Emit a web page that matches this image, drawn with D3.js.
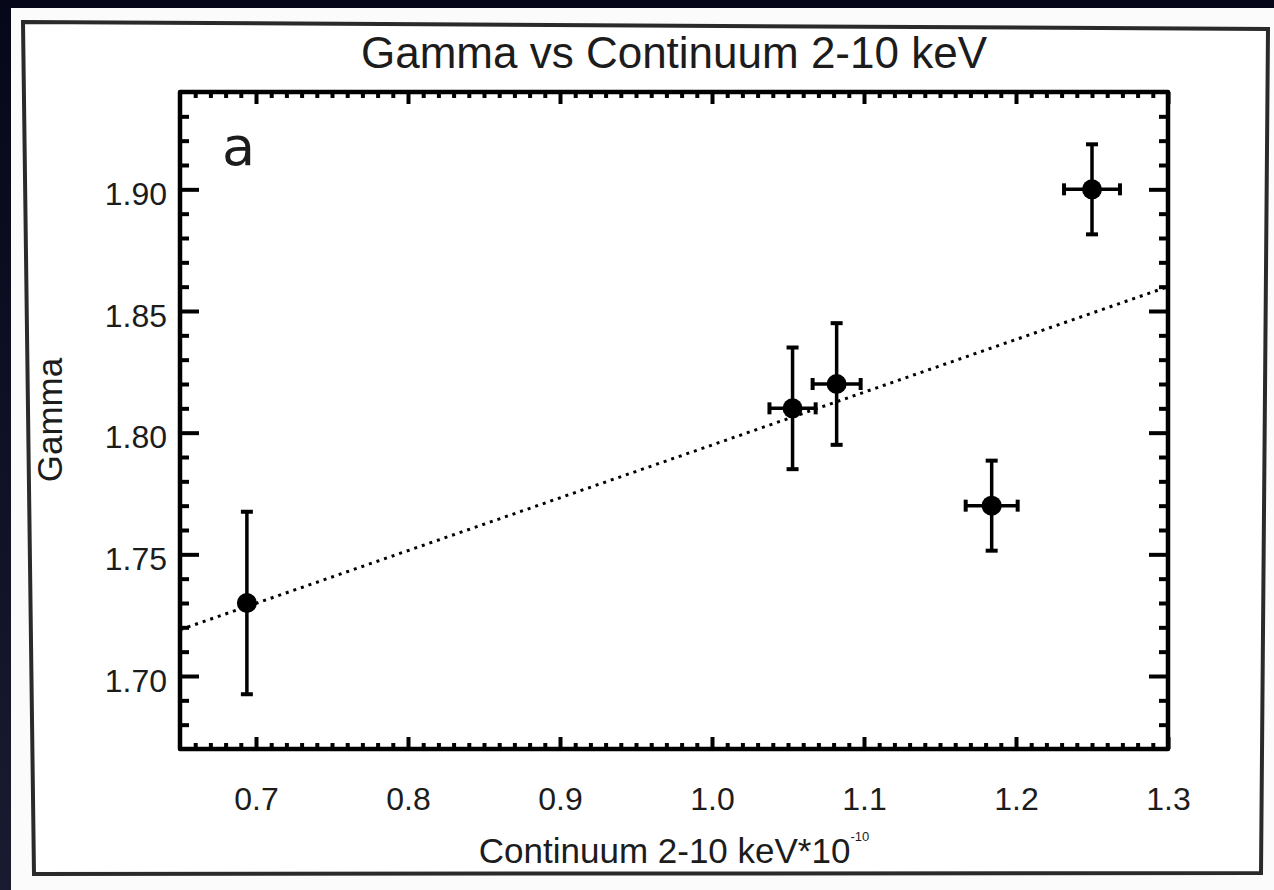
<!DOCTYPE html>
<html>
<head>
<meta charset="utf-8">
<script src="https://cdn.jsdelivr.net/npm/d3@7"></script>
<style>
  html, body { margin: 0; padding: 0; background: #0b0b1f; }
  svg { display: block; }
  text { font-family: "Liberation Sans", Arial, Helvetica, sans-serif; fill: #1c1c1c; }
</style>
</head>
<body>
<script>
// ---- data ----
const title = "Gamma vs Continuum 2-10 keV";
const xLabel = "Continuum 2-10 keV*10";
const xLabelSup = "-10";
const yLabel = "Gamma";
const panelLabel = "a";

const continuum = [0.694, 1.053, 1.082, 1.184, 1.250];
const gamma     = [1.730, 1.810, 1.820, 1.770, 1.900];
const gammaErr  = [0.0375, 0.025, 0.025, 0.0185, 0.0185];
const contErr   = [0.0, 0.0152, 0.0158, 0.0171, 0.0184];

const fitX = [0.65, 1.30];
const fitY = [1.719, 1.860];

const xDomain = [0.65, 1.30];
const yDomain = [1.67, 1.94];
const xMajor = [0.7, 0.8, 0.9, 1.0, 1.1, 1.2, 1.3];
const xMajorLabels = ["0.7", "0.8", "0.9", "1.0", "1.1", "1.2", "1.3"];
const yMajor = [1.70, 1.75, 1.80, 1.85, 1.90];
const yMajorLabels = ["1.70", "1.75", "1.80", "1.85", "1.90"];

// ---- layout ----
const W = 1274, H = 890;
const L = 180, R = 1168, T = 92, B = 749;

const svg = d3.select("body").append("svg").attr("width", W).attr("height", H);

// background photo-like frame
const defs = svg.append("defs");
const grad = defs.append("linearGradient").attr("id", "bg").attr("x1", 0).attr("y1", 0).attr("x2", 0).attr("y2", 1);
grad.append("stop").attr("offset", "0%").attr("stop-color", "#07071a");
grad.append("stop").attr("offset", "100%").attr("stop-color", "#1a1a30");
svg.append("rect").attr("width", W).attr("height", H).attr("fill", "url(#bg)");
svg.append("rect").attr("x", 11).attr("y", 8).attr("width", W - 11).attr("height", H - 8).attr("fill", "#fbfbfb");
svg.append("path")
  .attr("d", "M23,22 L1268,29 L1261,873 L34,874 Z")
  .attr("fill", "#ffffff").attr("stroke", "#2a2a2a").attr("stroke-width", 4);

const x = d3.scaleLinear().domain(xDomain).range([L, R]);
const y = d3.scaleLinear().domain(yDomain).range([B, T]);

// minor tick values (every 0.01)
const xMinor = d3.range(66, 130).map(v => v / 100).filter(v => !xMajor.some(m => Math.abs(m - v) < 1e-9));
const yMinor = d3.range(168, 194).map(v => v / 100).filter(v => !yMajor.some(m => Math.abs(m - v) < 1e-9));

const tickStroke = "#000";
function drawAxis(axisGen, tx, ty) {
  const g = svg.append("g").attr("transform", `translate(${tx},${ty})`).call(axisGen);
  g.select(".domain").remove();
  g.selectAll(".tick line").attr("stroke", tickStroke).attr("stroke-width", 4);
  return g;
}

// bottom
const gb = drawAxis(d3.axisBottom(x).tickValues(xMajor).tickSize(-12).tickFormat((d, i) => xMajorLabels[i]), 0, B);
gb.selectAll(".tick text").attr("y", 61).attr("dy", 0).style("font-size", "32px").style("font-family", "Liberation Sans, Arial, sans-serif").attr("fill", "#1c1c1c");
drawAxis(d3.axisBottom(x).tickValues(xMinor).tickSize(-6).tickFormat(""), 0, B);
// top
drawAxis(d3.axisTop(x).tickValues(xMajor).tickSize(-12).tickFormat(""), 0, T);
drawAxis(d3.axisTop(x).tickValues(xMinor).tickSize(-6).tickFormat(""), 0, T);
// left
const gl = drawAxis(d3.axisLeft(y).tickValues(yMajor).tickSize(-19).tickFormat((d, i) => yMajorLabels[i]), L, 0);
gl.selectAll(".tick text").attr("x", -13).attr("dy", "0.47em").style("font-size", "32px").style("font-family", "Liberation Sans, Arial, sans-serif").attr("fill", "#1c1c1c");
drawAxis(d3.axisLeft(y).tickValues(yMinor).tickSize(-9).tickFormat(""), L, 0);
// right
drawAxis(d3.axisRight(y).tickValues(yMajor).tickSize(-19).tickFormat(""), R, 0);
drawAxis(d3.axisRight(y).tickValues(yMinor).tickSize(-9).tickFormat(""), R, 0);

// plot frame
svg.append("rect").attr("x", L).attr("y", T).attr("width", R - L).attr("height", B - T)
  .attr("fill", "none").attr("stroke", "#000").attr("stroke-width", 4.5).attr("stroke-linejoin", "round");

// fit line (dotted)
const line = d3.line().x(d => x(d[0])).y(d => y(d[1]));
svg.append("path").datum(d3.zip(fitX, fitY)).attr("d", line)
  .attr("fill", "none").attr("stroke", "#000").attr("stroke-width", 3).attr("stroke-dasharray", "3,5");

// data points with error bars
const pts = continuum.map((c, i) => ({ x: c, y: gamma[i], ex: contErr[i], ey: gammaErr[i] }));
const gp = svg.append("g");
const cap = 6;
pts.forEach(p => {
  const cx = x(p.x), cy = y(p.y);
  // vertical error bar
  gp.append("line").attr("x1", cx).attr("x2", cx).attr("y1", y(p.y - p.ey)).attr("y2", y(p.y + p.ey))
    .attr("stroke", "#000").attr("stroke-width", 3.5);
  [p.y - p.ey, p.y + p.ey].forEach(v => {
    gp.append("line").attr("x1", cx - cap).attr("x2", cx + cap).attr("y1", y(v)).attr("y2", y(v))
      .attr("stroke", "#000").attr("stroke-width", 4);
  });
  if (p.ex > 0) {
    gp.append("line").attr("y1", cy).attr("y2", cy).attr("x1", x(p.x - p.ex)).attr("x2", x(p.x + p.ex))
      .attr("stroke", "#000").attr("stroke-width", 3.5);
    [p.x - p.ex, p.x + p.ex].forEach(v => {
      gp.append("line").attr("y1", cy - cap).attr("y2", cy + cap).attr("x1", x(v)).attr("x2", x(v))
        .attr("stroke", "#000").attr("stroke-width", 4);
    });
  }
  gp.append("circle").attr("cx", cx).attr("cy", cy).attr("r", 10).attr("fill", "#000");
});

// title
svg.append("text").attr("x", (L + R) / 2).attr("y", 68).attr("text-anchor", "middle")
  .style("font-size", "44px").text(title);

// x label with superscript
const xl = svg.append("text").attr("x", (L + R) / 2).attr("y", 863).attr("text-anchor", "middle")
  .style("font-size", "35px");
xl.append("tspan").text(xLabel);
xl.append("tspan").attr("dy", -22).style("font-size", "13px").text(xLabelSup);

// y label
svg.append("text").attr("transform", `translate(62,420) rotate(-90)`).attr("text-anchor", "middle")
  .style("font-size", "35px").text(yLabel);

// panel label
svg.append("text").attr("x", 222).attr("y", 165).style("font-size", "54px")
  .style("font-family", "DejaVu Sans, sans-serif").attr("fill", "#000").text(panelLabel);
</script>
</body>
</html>
